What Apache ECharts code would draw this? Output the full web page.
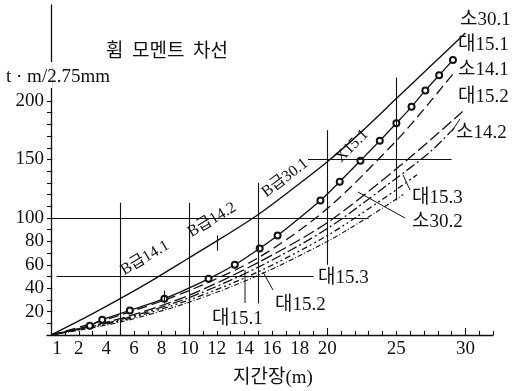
<!DOCTYPE html>
<html>
<head>
<meta charset="utf-8">
<script src="https://cdn.jsdelivr.net/npm/echarts@6/dist/echarts.min.js"></script>
<style>
  html, body { margin: 0; padding: 0; background: #fff; }
  #chart { width: 516px; height: 391px; }
</style>
</head>
<body>
<div id="chart"></div>
<script>
const SERIF = "'Liberation Serif','DejaVu Serif','Noto Sans CJK KR',serif";
const KR = "'Noto Sans CJK KR','Liberation Serif',sans-serif";

// axes
const xLabels = [1, 2, 4, 6, 8, 10, 12, 14, 16, 18, 20, 25, 30];
const xTicks = [1, 2, 3, 4, 5, 6, 7, 8, 9, 10, 11, 12, 13, 14, 15, 16, 17, 18, 19, 20, 21, 22, 23, 24, 25, 26, 27, 28, 29, 30, 31, 32];
const yLabels = [20, 40, 60, 80, 100, 150, 200];
const yTicks = [10, 20, 30, 40, 50, 60, 70, 80, 90, 100, 110, 120, 130, 140, 150, 160, 170, 180, 190, 200];

// curves: [span (m), moment]
const so30_1 = [[0, 0], [2.5, 15], [5, 31], [7.5, 48], [10, 66], [12.5, 84], [15, 103], [17.5, 125], [20, 148], [22.5, 174], [25, 202], [27.5, 230], [30, 258]];
const dae15_1 = [[0, 0], [2.8, 8], [3.7, 13], [5.7, 21], [8.2, 31], [11.4, 48], [13.3, 60], [15.1, 74], [16.4, 85], [19.5, 115], [20.9, 131], [22.4, 149], [23.8, 166], [25, 181], [26.1, 195], [27.1, 209], [28.1, 222], [29.1, 235]];
const so14_1 = [[0, 0], [5, 17], [10, 38], [15, 66], [20, 108], [25, 166], [27, 193], [29.1, 223]];
const dae15_2 = [[0, 0], [5, 14], [10, 34], [15, 62], [20, 96], [25, 142], [27.5, 167], [29.8, 191]];
const so14_2 = [[0, 0], [5, 13], [10, 32], [15, 58], [20, 91], [25, 134], [27.5, 157], [29.2, 177]];
const dae15_3 = [[0, 0], [5, 12], [10, 30], [15, 54], [20, 85], [24, 116], [26.5, 137]];
const so30_2 = [[0, 0], [5, 11], [10, 28], [15, 51], [20, 80], [23, 101], [25.5, 120]];

// reference cross lines
const refLines = [
  [[-0.3, 100], [23, 100]],
  [[0.4, 50], [19, 50]],
  [[18.6, 150], [29, 150]],
  [[5, 0], [5, 113]],
  [[10, 0], [10, 113]],
  [[15, 27], [15, 130]],
  [[20, 60], [20, 175]],
  [[25, 115], [25, 220]],
  [[12, 72], [12, 85]],
  [[8.2, 27], [8.2, 38]]
];

const ink = "#111";

function txt(s, x, y, size, rot, font) {
  return {
    type: "text", x: x, y: y, z: 100,
    rotation: (rot || 0) * Math.PI / 180,
    style: {
      text: s, font: size + "px " + (font || SERIF), fill: ink,
      align: "left", verticalAlign: "middle",
      textAlign: "left", textVerticalAlign: "middle"
    }
  };
}
function rtxt(s, x, y, size, rot) {
  let t = txt(s, x, y, size, rot);
  t.style.align = "center";
  t.style.textAlign = "center";
  return t;
}
function seg(x1, y1, x2, y2) {
  return { type: "line", z: 100, shape: { x1: x1, y1: y1, x2: x2, y2: y2 }, style: { stroke: ink, lineWidth: 1 } };
}

function curve(name, data, dash, width) {
  return {
    name: name, type: "line", data: data, smooth: 0.3, showSymbol: false,
    lineStyle: { color: ink, width: width || 1.3, type: dash || "solid" },
    silent: true
  };
}

// tick marks drawn as short segments (inside the axes)
let tickSegs = xTicks.map(function (k) { return [[k, 0], [k, k % 10 === 0 ? 6 : 3.5]]; })
  .concat(yTicks.map(function (v) { return [[-0.3, v], [0.08, v]]; }));

let myChart = echarts.init(document.getElementById("chart"), null, { renderer: "canvas" });

let option = {
  animation: false,
  backgroundColor: "#fff",
  grid: { left: 47, right: 23, top: 5, bottom: 56, containLabel: false, outerBoundsMode: "none" },
  xAxis: {
    type: "value", min: -0.3, max: 32,
    splitLine: { show: false },
    axisLine: { show: true, lineStyle: { color: ink, width: 1.3 } },
    axisTick: { show: false },
    axisLabel: {
      customValues: xLabels, color: ink, fontFamily: SERIF, fontSize: 19, margin: 5,
      formatter: function (v) { return v === 1 ? "{a|1}" : String(v); },
      rich: { a: { fontFamily: SERIF, fontSize: 19, color: ink, padding: [0, 16, 0, 0] } }
    }
  },
  yAxis: {
    type: "value", min: 0, max: 282,
    splitLine: { show: false },
    axisLine: { show: true, lineStyle: { color: ink, width: 1.3 } },
    axisTick: { show: false },
    axisLabel: {
      customValues: yLabels, color: ink, fontFamily: SERIF, fontSize: 19, margin: 3
    }
  },
  series: [
    Object.assign(curve("소30.1", so30_1, "solid", 1.4), {
      markLine: {
        silent: true, symbol: "none", label: { show: false },
        lineStyle: { color: ink, width: 1.1, type: "solid" },
        data: refLines.concat(tickSegs).map(function (s) { return [{ coord: s[0] }, { coord: s[1] }]; })
      }
    }),
    {
      name: "대15.1", type: "line", smooth: 0.3, silent: true,
      data: dae15_1.map(function (p, i) { return i === 0 ? { value: p, symbol: "none" } : p; }),
      symbol: "emptyCircle", symbolSize: 6,
      itemStyle: { color: ink, borderWidth: 1.1 },
      lineStyle: { color: ink, width: 1.3 }
    },
    curve("소14.1", so14_1, [10, 5]),
    curve("대15.2", dae15_2, [12, 4]),
    curve("소14.2", so14_2, [10, 3, 2, 3]),
    curve("대15.3", dae15_3, [6, 3, 2, 3, 2, 3]),
    curve("소30.2", so30_2, [5, 2, 1, 2], 1.1)
  ],
  graphic: [
    { type: "rect", z: 50, shape: { x: 36, y: 62, width: 16, height: 26 }, style: { fill: "#fff" } },
    txt("휨  모멘트  차선", 106, 50, 19, 0, KR),
    txt("t · m/2.75mm", 6, 77, 19),
    txt("지간장(m)", 233, 378, 19),
    txt("소30.1", 460, 20, 19),
    txt("대15.1", 458, 45, 19),
    txt("소14.1", 458, 70, 19),
    txt("대15.2", 458, 97, 19),
    txt("소14.2", 456, 133, 19),
    txt("대15.3", 412, 198, 19),
    txt("소30.2", 412, 222, 19),
    txt("대15.3", 318, 278, 19),
    txt("대15.2", 275, 305, 19),
    txt("대15.1", 212, 319, 19),
    rtxt("B급14.1", 145, 258, 16, 31),
    rtxt("B급14.2", 212, 220, 16, 31),
    rtxt("B급30.1", 285, 178, 16, 37),
    rtxt("X15.1", 352, 146, 16, 45),
    seg(405, 218, 358, 192),
    seg(410, 190, 403, 175),
    seg(273, 290, 263, 272),
    seg(245, 303, 245, 270),
    seg(452, 131, 460, 119)
  ]
};
myChart.setOption(option);
</script>
</body>
</html>
